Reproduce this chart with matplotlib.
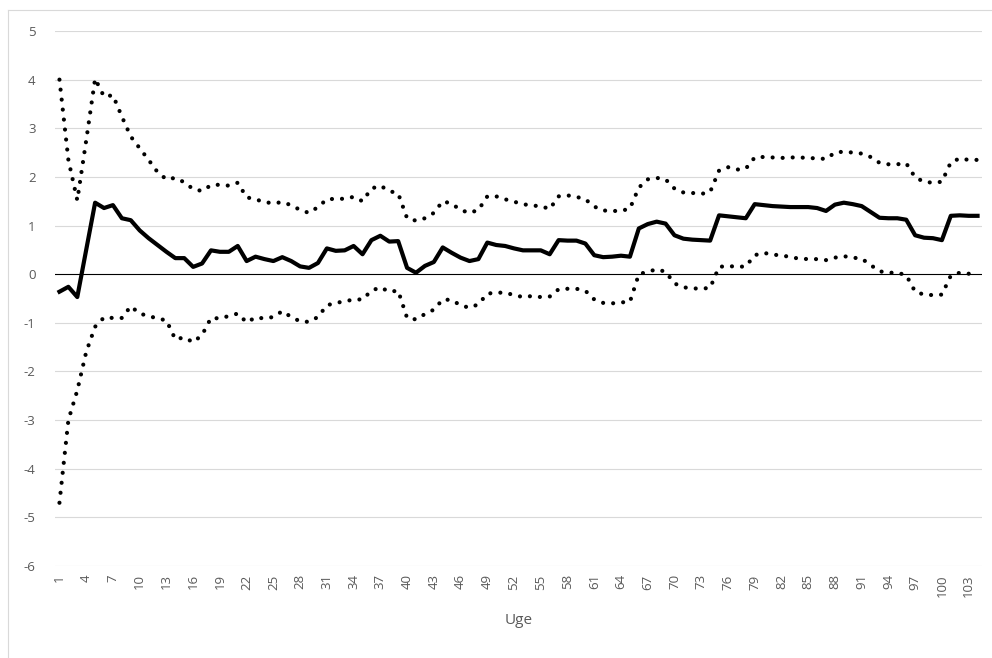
import matplotlib.pyplot as plt
from matplotlib.lines import Line2D
import numpy as np

weeks = np.arange(1, 105)

estimate = [-0.36, -0.26, -0.47, 0.50, 1.47, 1.36, 1.42, 1.15, 1.11, 0.90,
            0.74, 0.60, 0.46, 0.33, 0.33, 0.15, 0.22, 0.49, 0.46, 0.46,
            0.58, 0.27, 0.36, 0.31, 0.27, 0.35, 0.27, 0.16, 0.13, 0.23,
            0.53, 0.48, 0.49, 0.58, 0.41, 0.70, 0.79, 0.67, 0.68, 0.13,
            0.03, 0.17, 0.25, 0.55, 0.44, 0.34, 0.27, 0.31, 0.65, 0.60,
            0.58, 0.53, 0.49, 0.49, 0.49, 0.41, 0.70, 0.69, 0.69, 0.63,
            0.39, 0.35, 0.36, 0.38, 0.36, 0.94, 1.03, 1.08, 1.04, 0.80,
            0.73, 0.71, 0.70, 0.69, 1.21, 1.19, 1.17, 1.15, 1.44, 1.42,
            1.40, 1.39, 1.38, 1.38, 1.38, 1.36, 1.30, 1.43, 1.47, 1.44,
            1.40, 1.28, 1.16, 1.15, 1.15, 1.12, 0.80, 0.75, 0.74, 0.70,
            1.20, 1.21, 1.20, 1.20]

upper = [4.00, 2.35, 1.52, 2.75, 4.02, 3.65, 3.68, 3.24, 2.83, 2.59,
         2.35, 2.10, 1.95, 1.98, 1.89, 1.75, 1.71, 1.83, 1.84, 1.82,
         1.88, 1.58, 1.54, 1.48, 1.46, 1.48, 1.42, 1.32, 1.26, 1.38,
         1.54, 1.55, 1.55, 1.59, 1.50, 1.76, 1.82, 1.71, 1.66, 1.15,
         1.10, 1.15, 1.26, 1.50, 1.45, 1.32, 1.26, 1.32, 1.60, 1.60,
         1.54, 1.49, 1.44, 1.41, 1.40, 1.34, 1.60, 1.62, 1.59, 1.54,
         1.39, 1.31, 1.30, 1.30, 1.35, 1.78, 1.95, 1.98, 1.95, 1.76,
         1.68, 1.67, 1.65, 1.69, 2.13, 2.20, 2.15, 2.17, 2.40, 2.41,
         2.40, 2.39, 2.40, 2.40, 2.39, 2.38, 2.37, 2.50, 2.52, 2.50,
         2.48, 2.41, 2.29, 2.26, 2.26, 2.28, 1.99, 1.90, 1.88, 1.90,
         2.30, 2.38, 2.35, 2.35]

lower = [-4.70, -3.00, -2.39, -1.60, -1.08, -0.89, -0.90, -0.90, -0.66, -0.81,
         -0.86, -0.91, -0.95, -1.34, -1.30, -1.40, -1.25, -0.90, -0.91, -0.86,
         -0.81, -0.99, -0.89, -0.91, -0.88, -0.76, -0.88, -0.97, -0.98, -0.88,
         -0.64, -0.59, -0.56, -0.52, -0.52, -0.34, -0.27, -0.36, -0.34, -0.90,
         -0.93, -0.82, -0.73, -0.52, -0.53, -0.64, -0.69, -0.62, -0.40, -0.38,
         -0.38, -0.43, -0.47, -0.45, -0.47, -0.46, -0.31, -0.30, -0.30, -0.34,
         -0.52, -0.59, -0.60, -0.58, -0.57, 0.00, 0.05, 0.10, 0.05, -0.19,
         -0.27, -0.29, -0.30, -0.28, 0.15, 0.17, 0.15, 0.16, 0.39, 0.44,
         0.40, 0.39, 0.35, 0.32, 0.31, 0.31, 0.29, 0.34, 0.37, 0.34,
         0.32, 0.19, 0.06, 0.03, 0.03, -0.02, -0.36, -0.42, -0.43, -0.42,
         -0.03, 0.03, 0.01, 0.01]

tick_weeks = list(range(1, 105, 3))

plt.rcParams['font.family'] = ['Open Sans', 'DejaVu Sans']
plt.rcParams['axes.unicode_minus'] = False
grey = '#595959'

fig = plt.figure(figsize=(9.92, 6.58), dpi=100)
ax = fig.add_axes([55 / 992, 92 / 658, 927 / 992, 535 / 658])

# outer chart border (left and top edges visible)
fig.add_artist(Line2D([8 / 992, 8 / 992], [0, 1 - 10 / 658], color='#d9d9d9', lw=0.8))
fig.add_artist(Line2D([8 / 992, 1], [1 - 10 / 658, 1 - 10 / 658], color='#d9d9d9', lw=0.8))

for v in range(-6, 6):
    if v != 0:
        ax.axhline(v, color='#d9d9d9', lw=0.8, zorder=1)
ax.axhline(0, color='black', lw=0.8, zorder=2)

dots = (0, (0.01, 2.4))
ax.plot(weeks, upper, color='black', lw=3.0, linestyle=dots,
        dash_capstyle='round', zorder=3)
ax.plot(weeks, lower, color='black', lw=3.0, linestyle=dots,
        dash_capstyle='round', zorder=3)
ax.plot(weeks, estimate, color='black', lw=3.0, solid_joinstyle='round', zorder=4)

ax.set_xlim(0.5, 104.5)
ax.set_ylim(-6, 5)
ax.set_yticks(range(-6, 6))
ax.set_xticks(tick_weeks)
ax.set_xticklabels([str(w) for w in tick_weeks], rotation=90)
ax.tick_params(axis='both', length=0, labelsize=9.5, labelcolor=grey)
ax.tick_params(axis='y', pad=14)
ax.tick_params(axis='x', pad=6)
for s in ax.spines.values():
    s.set_visible(False)

ax.set_xlabel('Uge', fontsize=11, color=grey, labelpad=12)

plt.savefig('out.png', dpi=100)
